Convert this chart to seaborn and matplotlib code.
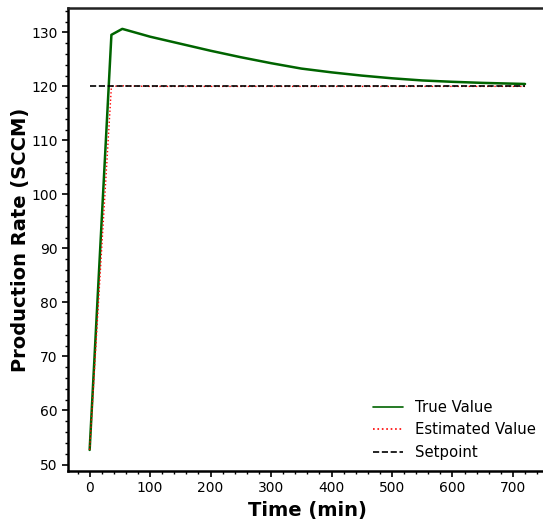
import matplotlib
matplotlib.use("Agg")
import matplotlib.pyplot as plt
from matplotlib.ticker import AutoMinorLocator, MultipleLocator
import seaborn as sns
import pandas as pd

sns.set_style("ticks")
plt.rcParams['font.family'] = ['DejaVu Sans']
plt.rcParams['text.color'] = 'black'
plt.rcParams['axes.labelcolor'] = 'black'
plt.rcParams['xtick.color'] = 'black'
plt.rcParams['ytick.color'] = 'black'

time_true = [0, 36, 54, 100, 150, 200, 250, 300, 350, 400, 450, 500, 550, 600, 650, 720]
true_value = [52.7, 129.55, 130.65, 129.2, 127.9, 126.6, 125.4, 124.3, 123.3, 122.6, 122.0,
              121.5, 121.1, 120.85, 120.65, 120.45]
time_est = [0, 36, 54, 100, 200, 300, 400, 500, 600, 720]
est_value = [52.7, 120.0, 120.1, 120.0, 120.0, 120.0, 120.0, 120.0, 120.0, 120.0]
time_sp = [0, 720]
setpoint = [120, 120]

df_true = pd.DataFrame({"t": time_true, "v": true_value})
df_est = pd.DataFrame({"t": time_est, "v": est_value})
df_sp = pd.DataFrame({"t": time_sp, "v": setpoint})

fig = plt.figure(figsize=(5.43, 5.21), dpi=100)
ax = fig.add_axes([0.125, 0.096, 0.882, 0.889])

sns.lineplot(data=df_true, x="t", y="v", ax=ax, color="#006400", linewidth=1.8, label="True Value")
sns.lineplot(data=df_est, x="t", y="v", ax=ax, color="red", linewidth=1.0, linestyle=":", label="Estimated Value")
sns.lineplot(data=df_sp, x="t", y="v", ax=ax, color="black", linewidth=1.2, linestyle="--", label="Setpoint")

ax.set_xlabel("Time (min)", fontsize=14, fontweight="bold")
ax.set_ylabel("Production Rate (SCCM)", fontsize=14, fontweight="bold", labelpad=1)
ax.xaxis.set_major_locator(MultipleLocator(100))
ax.yaxis.set_major_locator(MultipleLocator(10))
ax.xaxis.set_minor_locator(AutoMinorLocator(5))
ax.yaxis.set_minor_locator(AutoMinorLocator(5))
ax.tick_params(which="major", direction="out", length=4, width=1.2, labelsize=10, colors="black")
ax.tick_params(which="minor", direction="out", length=2.5, width=1, colors="black")
for s in ["left", "bottom"]:
    ax.spines[s].set_linewidth(1.8)
    ax.spines[s].set_color("black")
ax.spines["top"].set_linewidth(1.8)
ax.spines["top"].set_color("#222222")
ax.spines["right"].set_visible(False)

leg = ax.legend(loc="lower right", frameon=False, fontsize=10.7, borderaxespad=0.35)
for line in leg.get_lines():
    line.set_linewidth(1.2)

fig.savefig("out.png", dpi=100)
